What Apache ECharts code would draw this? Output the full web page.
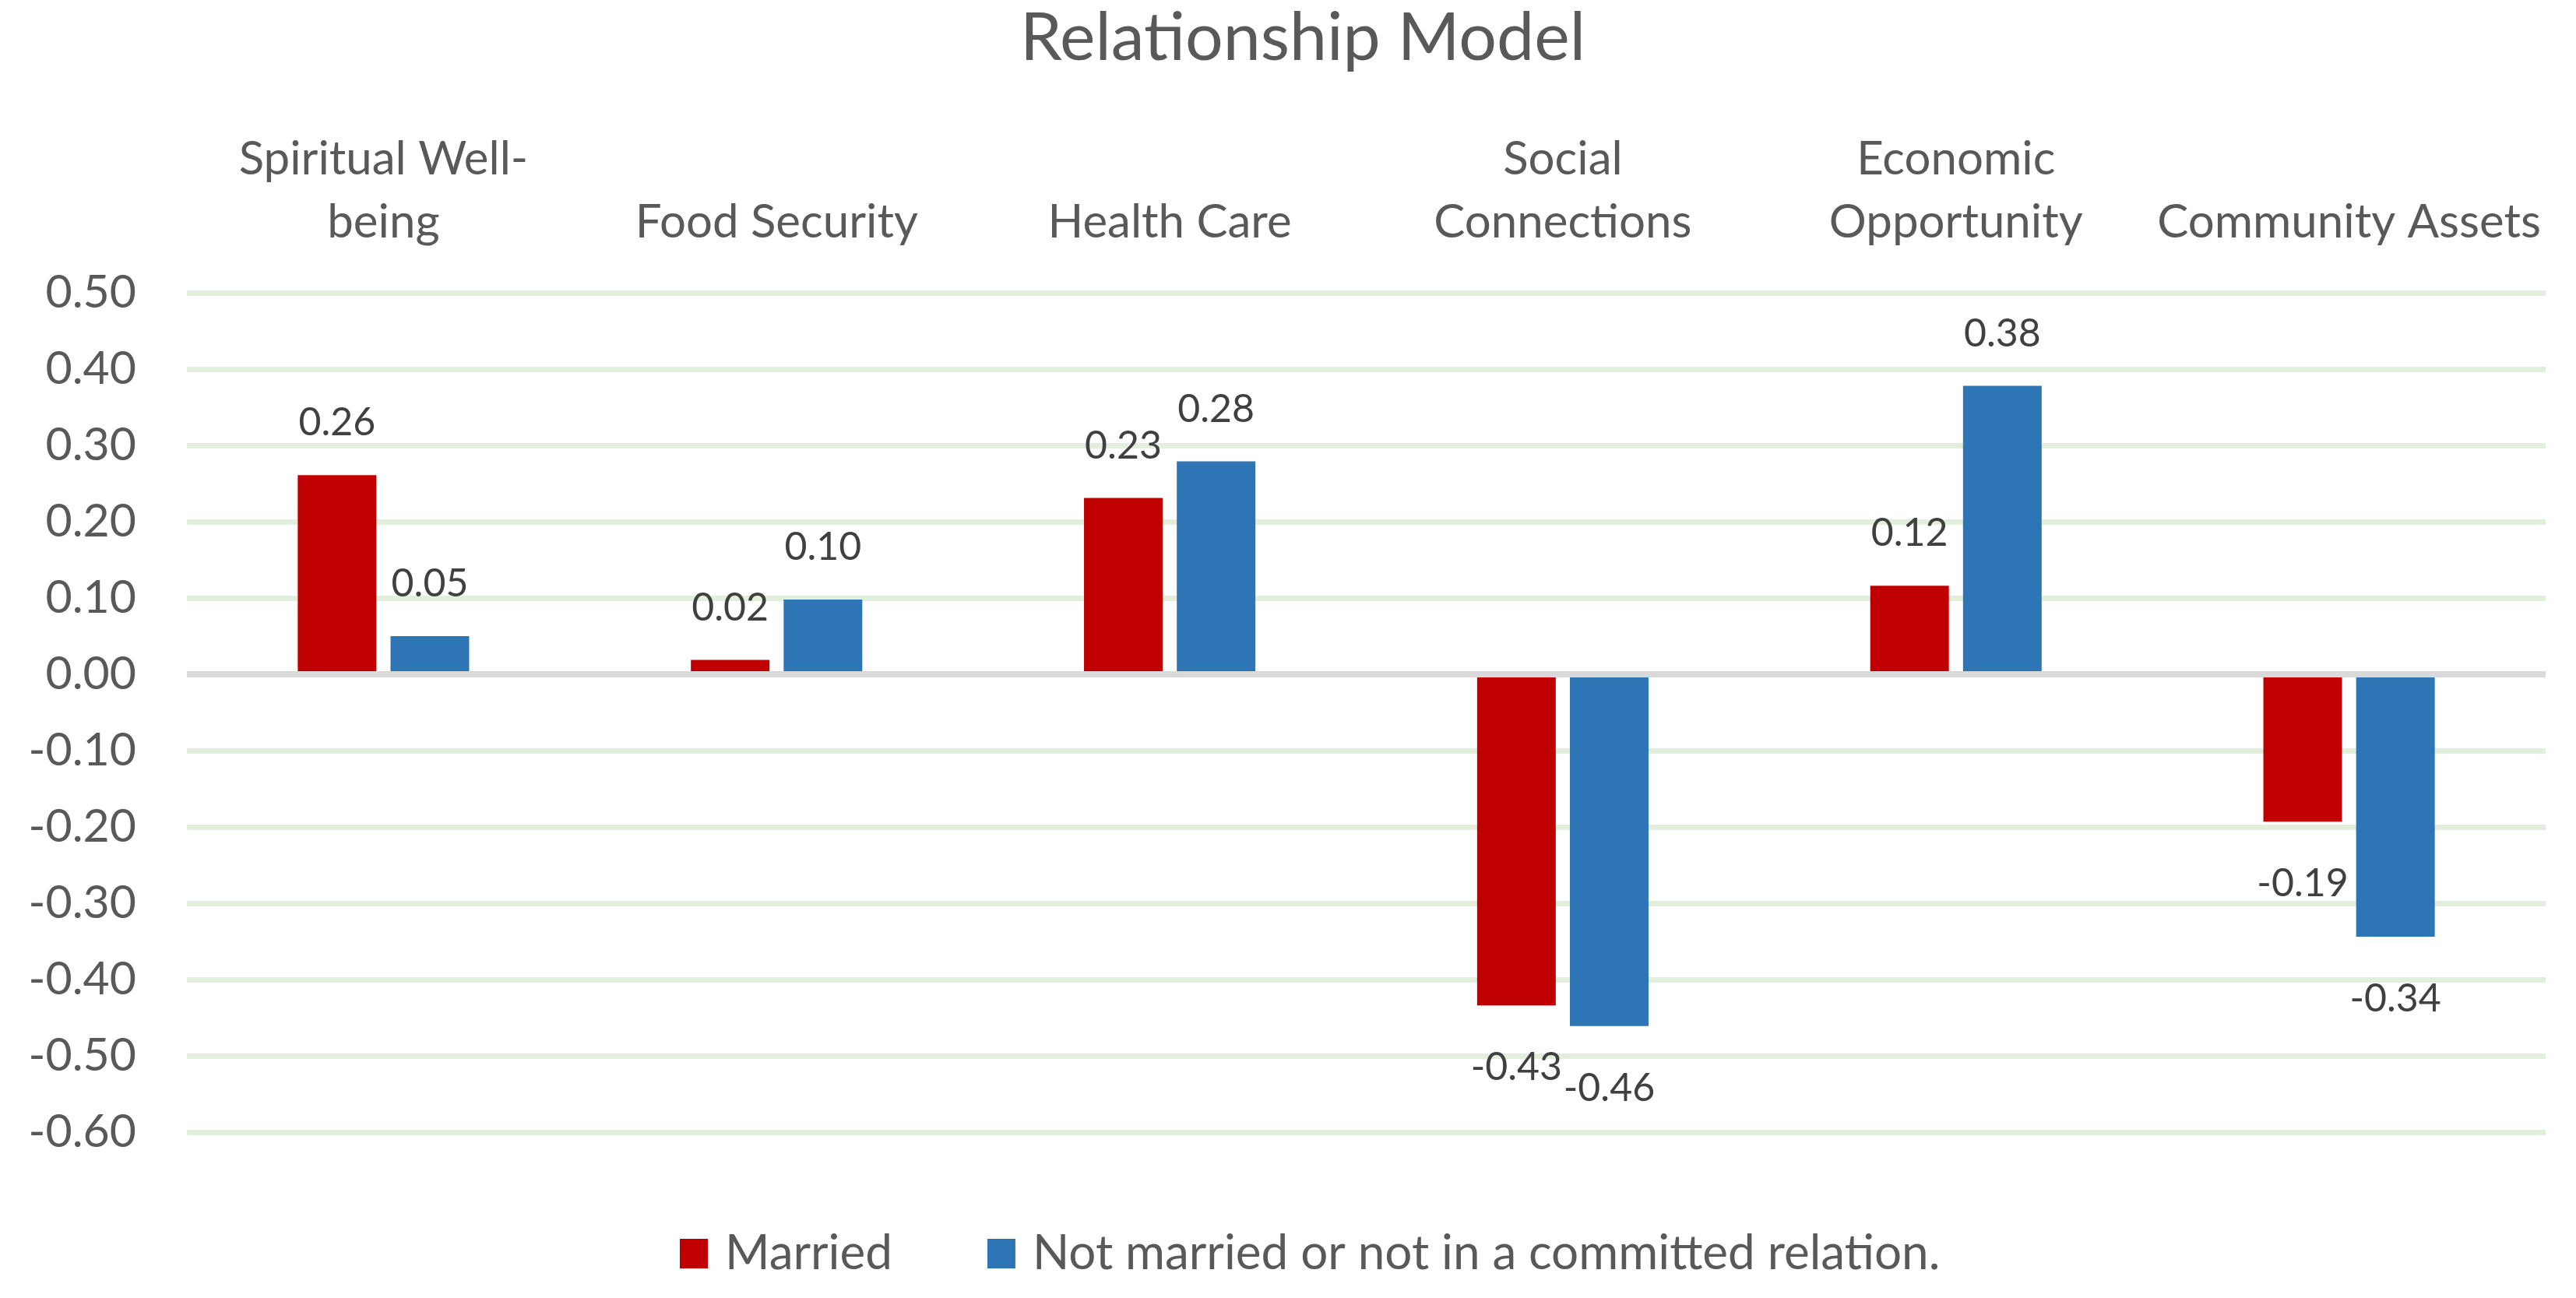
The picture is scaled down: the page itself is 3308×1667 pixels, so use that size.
<!DOCTYPE html>
<html>
<head>
<meta charset="utf-8">
<script src="https://cdn.jsdelivr.net/npm/echarts@6/dist/echarts.min.js"></script>
<style>
html,body{margin:0;padding:0;background:#fff;}
#chart{width:3308px;height:1667px;}
</style>
</head>
<body>
<div id="chart"></div>
<script>
const chartTitle = 'Relationship Model';
const categories = ['Spiritual Well-\nbeing', 'Food Security', 'Health Care', 'Social\nConnections', 'Economic\nOpportunity', 'Community Assets'];
const seriesNames = ['Married', 'Not married or not in a committed relation.'];
const married = [0.261, 0.019, 0.231, -0.434, 0.116, -0.193];
const notMarried = [0.050, 0.098, 0.279, -0.461, 0.378, -0.344];
const yMin = -0.6, yMax = 0.5, yStep = 0.1;

const FONT = 'Lato';
const TEXT = '#595959';
const LABEL = '#404040';

function toData(vals) {
  return vals.map(v => ({
    value: v,
    label: v >= 0 ? { position: 'top', distance: 42 } : { position: 'bottom', distance: 55 }
  }));
}

const chart = echarts.init(document.getElementById('chart'));
chart.setOption({
  animation: false,
  backgroundColor: '#ffffff',
  textStyle: { fontFamily: FONT },
  color: ['#C00000', '#2E75B6'],
  title: {
    text: chartTitle,
    left: 1673,
    textAlign: 'center',
    top: 6,
    padding: 0,
    textStyle: { fontFamily: FONT, fontSize: 86, fontWeight: 'normal', color: TEXT }
  },
  legend: {
    data: seriesNames,
    left: 873,
    top: 1579,
    padding: 0,
    itemWidth: 36,
    itemHeight: 38,
    itemGap: 122,
    icon: 'rect',
    textStyle: { fontFamily: FONT, fontSize: 62, color: TEXT, padding: [0, 0, 0, 17] }
  },
  grid: { left: 240, right: 39, top: 376, bottom: 213 },
  xAxis: {
    type: 'category',
    position: 'top',
    data: categories,
    axisLine: { show: false },
    axisTick: { show: false },
    splitLine: { show: false },
    axisLabel: { interval: 0, fontFamily: FONT, fontSize: 60, lineHeight: 81, color: TEXT, margin: 50 }
  },
  yAxis: {
    type: 'value',
    min: yMin,
    max: yMax,
    interval: yStep,
    axisLine: { show: false },
    axisTick: { show: false },
    splitLine: { lineStyle: { color: '#E2EFDA', width: 7 } },
    axisLabel: {
      fontFamily: FONT, fontSize: 59, color: TEXT, margin: 65,
      formatter: v => v.toFixed(2)
    }
  },
  series: [
    {
      name: seriesNames[0],
      type: 'bar',
      data: toData(married),
      barGap: '18%',
      barCategoryGap: '56.4%',
      label: { show: true, fontFamily: FONT, fontSize: 50, color: LABEL, formatter: p => p.value.toFixed(2) }
    },
    {
      name: seriesNames[1],
      type: 'bar',
      data: toData(notMarried),
      barGap: '18%',
      barCategoryGap: '56.4%',
      label: { show: true, fontFamily: FONT, fontSize: 50, color: LABEL, formatter: p => p.value.toFixed(2) },
      markLine: {
        silent: true,
        symbol: ['none', 'none'],
        label: { show: false },
        lineStyle: { color: '#D9D9D9', width: 8, type: 'solid' },
        data: [{ yAxis: 0 }]
      }
    }
  ]
});
</script>
</body>
</html>
